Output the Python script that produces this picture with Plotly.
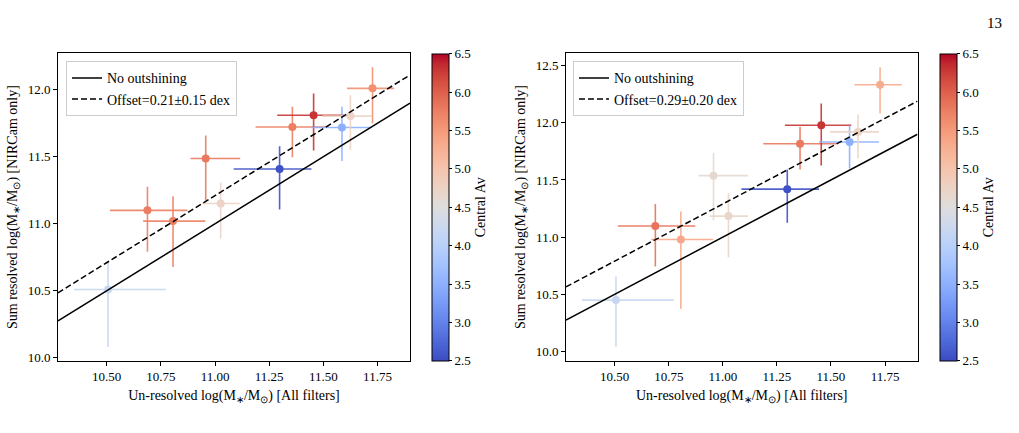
import plotly.graph_objects as go
from plotly.colors import sample_colorscale

# ---------------- data ----------------
x_unres = [10.506, 10.688, 10.806, 10.957, 11.026, 11.298, 11.357, 11.455, 11.586, 11.625, 11.727]
x_lo = [10.349, 10.515, 10.668, 10.887, 10.940, 11.086, 11.187, 11.287, 11.445, 11.495, 11.609]
x_hi = [10.773, 10.873, 10.955, 11.116, 11.116, 11.445, 11.525, 11.594, 11.722, 11.722, 11.827]

y_left = [10.51, 11.10, 11.02, 11.487, 11.151, 11.409, 11.722, 11.809, 11.718, 11.803, 12.010]
y_left_hi = [10.71, 11.276, 11.205, 11.659, 11.308, 11.578, 11.872, 11.971, 11.872, 11.958, 12.167]
y_left_lo = [10.08, 10.792, 10.677, 11.173, 10.890, 11.107, 11.497, 11.546, 11.468, 11.553, 11.750]
av_left = [4.2, 5.75, 5.75, 5.8, 4.75, 2.55, 5.75, 6.3, 3.5, 4.75, 5.6]

y_right = [10.449, 11.097, 10.979, 11.538, 11.184, 11.420, 11.817, 11.979, 11.832, 11.921, 12.333]
y_right_hi = [10.656, 11.290, 11.224, 11.737, 11.382, 11.592, 11.967, 12.169, 11.976, 12.074, 12.486]
y_right_lo = [10.040, 10.743, 10.374, 11.147, 10.823, 11.126, 11.592, 11.627, 11.601, 11.688, 12.083]
av_right = [4.2, 5.85, 5.35, 4.62, 4.7, 2.55, 5.8, 6.3, 3.5, 4.75, 5.3]

offsets = [0.21, 0.29]
offset_labels = ["Offset=0.21±0.15 dex", "Offset=0.29±0.20 dex"]
xlim = [10.275, 11.90]
ylims = [[9.978, 12.271], [9.918, 12.608]]
av_range = [2.5, 6.5]
xticks = [10.5, 10.75, 11.0, 11.25, 11.5, 11.75]
xtick_text = ["10.50", "10.75", "11.00", "11.25", "11.50", "11.75"]
cb_ticks = [2.5, 3.0, 3.5, 4.0, 4.5, 5.0, 5.5, 6.0, 6.5]

# ---------------- style ----------------
coolwarm_rgb = [
    (59, 76, 192), (68, 90, 204), (77, 104, 215), (87, 117, 225), (98, 130, 234),
    (108, 142, 241), (119, 154, 247), (130, 165, 251), (141, 176, 254), (152, 185, 255),
    (163, 194, 255), (174, 201, 253), (184, 208, 249), (194, 213, 244), (204, 217, 238),
    (213, 219, 230), (221, 221, 221), (229, 216, 209), (236, 211, 197), (241, 204, 185),
    (245, 196, 173), (247, 187, 160), (247, 177, 148), (247, 166, 135), (244, 154, 123),
    (241, 141, 111), (236, 127, 99), (229, 112, 88), (222, 96, 77), (213, 80, 66),
    (203, 62, 56), (192, 40, 47), (180, 4, 38)]
n = len(coolwarm_rgb) - 1
coolwarm = [[i / n, "rgb(%d,%d,%d)" % c] for i, c in enumerate(coolwarm_rgb)]

FONT = "Liberation Serif"
TICK_SIZE = 13
LABEL_SIZE = 14
W, H = 1019, 433
ax_x = [[58 / W, 410 / W], [566 / W, 917.5 / W]]
ax_y = [1 - 365 / H, 1 - 54 / H]
cb_x = [432 / W, 939.5 / W]
leg_x = [66 / W, 573 / W]


def color_of(v):
    t = (v - av_range[0]) / (av_range[1] - av_range[0])
    return sample_colorscale(coolwarm, [min(max(t, 0), 1)])[0]


def to_rgba(c, a):
    c = c.replace("rgb(", "").replace(")", "")
    r, g, b = [float(v) for v in c.split(",")]
    return "rgba(%d,%d,%d,%.2f)" % (r, g, b, a)


fig = go.Figure()

panels = [
    (y_left, y_left_hi, y_left_lo, av_left),
    (y_right, y_right_hi, y_right_lo, av_right),
]

for p, (ys, yhi, ylo, avs) in enumerate(panels):
    xa = "x" if p == 0 else "x2"
    ya = "y" if p == 0 else "y2"
    cax = "coloraxis" if p == 0 else "coloraxis2"
    for i in range(len(x_unres)):
        col = color_of(avs[i])
        fig.add_trace(go.Scatter(
            x=[x_unres[i]], y=[ys[i]], mode="markers",
            marker=dict(size=8, color=[avs[i]], coloraxis=cax, line=dict(width=0)),
            error_x=dict(type="data", symmetric=False,
                         array=[x_hi[i] - x_unres[i]], arrayminus=[x_unres[i] - x_lo[i]],
                         color=to_rgba(col, 0.9), thickness=1.6, width=0),
            error_y=dict(type="data", symmetric=False,
                         array=[yhi[i] - ys[i]], arrayminus=[ys[i] - ylo[i]],
                         color=to_rgba(col, 0.9), thickness=1.6, width=0),
            xaxis=xa, yaxis=ya, showlegend=False, hoverinfo="skip"))
    leg = "legend" if p == 0 else "legend2"
    fig.add_trace(go.Scatter(
        x=xlim, y=xlim, mode="lines", line=dict(color="black", width=1.5),
        name="No outshining", xaxis=xa, yaxis=ya, legend=leg))
    fig.add_trace(go.Scatter(
        x=xlim, y=[v + offsets[p] for v in xlim], mode="lines",
        line=dict(color="black", width=1.5, dash="6px,3px"),
        name=offset_labels[p], xaxis=xa, yaxis=ya, legend=leg))

axis_common = dict(showline=True, mirror=True, linecolor="black", linewidth=1,
                   ticks="outside", ticklen=4, tickcolor="black", tickwidth=1,
                   showgrid=False, zeroline=False,
                   tickfont=dict(family=FONT, size=TICK_SIZE, color="black"))

xlabel = "Un-resolved log(M<sub>∗</sub>/M<sub>⊙</sub>) [All filters]"
ylabel = "Sum resolved log(M<sub>∗</sub>/M<sub>⊙</sub>) [NIRCam only]"

layout = dict(
    width=W, height=H, margin=dict(l=0, r=0, t=0, b=0),
    paper_bgcolor="white", plot_bgcolor="white",
    font=dict(family=FONT, color="black", size=LABEL_SIZE),
)
for p in range(2):
    sx = "" if p == 0 else "2"
    layout["xaxis" + sx] = dict(
        domain=ax_x[p], range=xlim, tickvals=xticks, ticktext=xtick_text,
        anchor="y" + sx,
        title=dict(text=xlabel, font=dict(family=FONT, size=LABEL_SIZE), standoff=6),
        **axis_common)
    layout["yaxis" + sx] = dict(
        domain=ax_y, range=ylims[p], dtick=0.5, tick0=10.0, tickformat=".1f",
        anchor="x" + sx,
        title=dict(text=ylabel, font=dict(family=FONT, size=LABEL_SIZE), standoff=6),
        **axis_common)
    layout["coloraxis" + sx] = dict(
        cmin=av_range[0], cmax=av_range[1], colorscale=coolwarm,
        colorbar=dict(
            x=cb_x[p], xanchor="left", xpad=0, y=ax_y[0], yanchor="bottom", ypad=0,
            len=ax_y[1] - ax_y[0], lenmode="fraction", thickness=17,
            outlinewidth=1, outlinecolor="black",
            tickmode="array", tickvals=cb_ticks, ticktext=["%.1f" % v for v in cb_ticks],
            ticks="outside", ticklen=3, tickcolor="black",
            tickfont=dict(family=FONT, size=TICK_SIZE, color="black"),
            title=dict(text="Central Av", side="right",
                       font=dict(family=FONT, size=LABEL_SIZE, color="black"))))
    layout["legend" + sx] = dict(
        x=leg_x[p], y=1 - 62 / H, xanchor="left", yanchor="top",
        bgcolor="rgba(255,255,255,0.8)", bordercolor="#cccccc", borderwidth=1,
        font=dict(family=FONT, size=LABEL_SIZE, color="black"))

fig.update_layout(**layout)
fig.add_annotation(text="13", x=1004 / W, y=1 - 13 / H, xref="paper", yref="paper",
                   showarrow=False, font=dict(family=FONT, size=15, color="black"))

fig.write_html("out.html")
